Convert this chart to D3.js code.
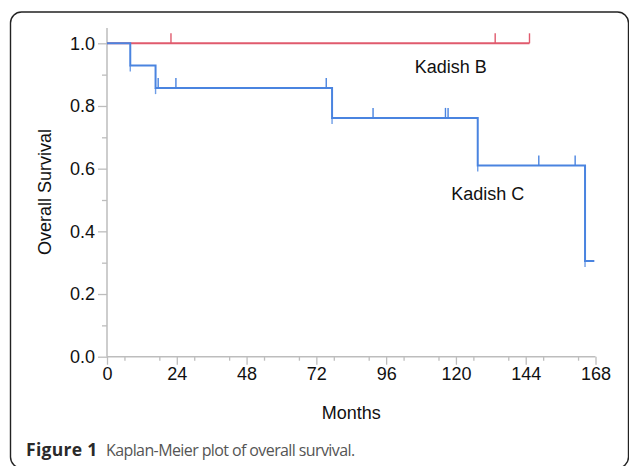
<!DOCTYPE html>
<html>
<head>
<meta charset="utf-8">
<script src="https://cdn.jsdelivr.net/npm/d3@7"></script>
<style>
  body { margin: 0; background: #fff; }
  svg { display: block; }
</style>
</head>
<body>
<div id="chart"></div>
<script>
// Kadish B: no events, censored only
var kadishBCensored = [22, 133.5, 145.3];
var kadishBEnd = 145.3;

// Kadish C: event times and survival after each event
var kadishCEventTimes = [8, 16.7, 77.4, 127.5, 164.4];
var kadishCSurvival = [0.929, 0.857, 0.762, 0.610, 0.305];
var kadishCCensored = [17.6, 23.7, 75.4, 91.5, 116.4, 117.3, 148.5, 161];
var kadishCEnd = 167.6;

var xTicks = [0, 24, 48, 72, 96, 120, 144, 168];
var yTicks = [0, 0.2, 0.4, 0.6, 0.8, 1.0];

var width = 629;
var height = 466;
var red = '#e05a6d';
var blue = '#4a84e0';
var axisGray = '#bdbdbd';
var font = 'Liberation Sans, Arial, sans-serif';

var svg = d3.select('#chart')
    .append('svg')
    .attr('width', width)
    .attr('height', height);

// rounded frame
svg.append('rect')
    .attr('x', 10.5)
    .attr('y', 12)
    .attr('width', 618)
    .attr('height', 456)
    .attr('rx', 11)
    .attr('fill', 'none')
    .attr('stroke', '#222')
    .attr('stroke-width', 1.4);

var x = d3.scaleLinear().domain([0, 168]).range([107, 595.5]);
var y = d3.scaleLinear().domain([0, 1]).range([356.7, 43.3]);

// axes, major and minor ticks
var yAxis = d3.axisLeft(y).tickValues(yTicks).tickFormat(d3.format('.1f')).tickSize(9).tickPadding(3);
var yMinor = d3.axisLeft(y).tickValues(d3.range(0.1, 1.0, 0.2)).tickFormat('').tickSize(5);
var xAxis = d3.axisBottom(x).tickValues(xTicks).tickFormat(d3.format('d')).tickSize(8).tickPadding(3);
var xMinor = d3.axisBottom(x).tickValues(d3.range(6, 168, 12)).tickFormat('').tickSize(4);

function styleAxis(g) {
    g.select('.domain').remove();
    g.selectAll('line').attr('stroke', axisGray).attr('stroke-width', 1.3);
    g.selectAll('text')
        .attr('fill', '#111')
        .style('font-family', font)
        .style('font-size', '18px');
}

svg.append('g').attr('transform', 'translate(107,0)').call(yAxis).call(styleAxis);
svg.append('g').attr('transform', 'translate(107,0)').call(yMinor).call(styleAxis);
svg.append('g').attr('transform', 'translate(0,356.7)').call(xAxis).call(styleAxis);
svg.append('g').attr('transform', 'translate(0,356.7)').call(xMinor).call(styleAxis);

// axis lines (y runs a little above 1.0)
svg.append('line')
    .attr('x1', x(0)).attr('x2', x(0))
    .attr('y1', 28).attr('y2', y(0))
    .attr('stroke', axisGray).attr('stroke-width', 1.5);
svg.append('line')
    .attr('x1', x(0)).attr('x2', x(168))
    .attr('y1', y(0)).attr('y2', y(0))
    .attr('stroke', axisGray).attr('stroke-width', 1.5);

// axis titles
svg.append('text')
    .attr('x', x(84))
    .attr('y', 419)
    .attr('text-anchor', 'middle')
    .style('font-family', font)
    .style('font-size', '18px')
    .attr('fill', '#111')
    .text('Months');

svg.append('text')
    .attr('transform', 'translate(51,192) rotate(-90)')
    .attr('text-anchor', 'middle')
    .style('font-family', font)
    .style('font-size', '18px')
    .attr('fill', '#111')
    .text('Overall Survival');

// step curve points
function stepPoints(times, surv, end) {
    var pts = [[0, 1]];
    var s = 1;
    times.forEach(function (t, i) {
        pts.push([t, s]);
        s = surv[i];
        pts.push([t, s]);
    });
    pts.push([end, s]);
    return pts;
}

function survAt(t, times, surv) {
    var s = 1;
    times.forEach(function (et, i) { if (et <= t) s = surv[i]; });
    return s;
}

var line = d3.line().x(function (d) { return x(d[0]); }).y(function (d) { return y(d[1]); });

// Kadish B
svg.append('path')
    .attr('d', line([[0, 1], [kadishBEnd, 1]]))
    .attr('fill', 'none')
    .attr('stroke', red)
    .attr('stroke-width', 2);
svg.selectAll('.censorB')
    .data(kadishBCensored)
    .enter().append('line')
    .attr('x1', function (d) { return x(d); })
    .attr('x2', function (d) { return x(d); })
    .attr('y1', y(1))
    .attr('y2', y(1) - 10)
    .attr('stroke', red)
    .attr('stroke-width', 1.4);

// Kadish C: small overshoot below each drop
svg.selectAll('.dropC')
    .data(kadishCEventTimes)
    .enter().append('line')
    .attr('x1', function (d) { return x(d); })
    .attr('x2', function (d) { return x(d); })
    .attr('y1', function (d, i) { return y(kadishCSurvival[i]); })
    .attr('y2', function (d, i) { return y(kadishCSurvival[i]) + 6; })
    .attr('stroke', blue)
    .attr('stroke-opacity', 0.8)
    .attr('stroke-width', 1.4);

svg.append('path')
    .attr('d', line(stepPoints(kadishCEventTimes, kadishCSurvival, kadishCEnd)))
    .attr('fill', 'none')
    .attr('stroke', blue)
    .attr('stroke-width', 2);

svg.selectAll('.censorC')
    .data(kadishCCensored)
    .enter().append('line')
    .attr('x1', function (d) { return x(d); })
    .attr('x2', function (d) { return x(d); })
    .attr('y1', function (d) { return y(survAt(d, kadishCEventTimes, kadishCSurvival)); })
    .attr('y2', function (d) { return y(survAt(d, kadishCEventTimes, kadishCSurvival)) - 10; })
    .attr('stroke', blue)
    .attr('stroke-width', 1.4);

// curve labels
svg.append('text')
    .attr('x', x(105.8))
    .attr('y', y(0.905))
    .style('font-family', font)
    .style('font-size', '18px')
    .attr('fill', '#111')
    .text('Kadish B');
svg.append('text')
    .attr('x', x(118.4))
    .attr('y', y(0.5))
    .style('font-family', font)
    .style('font-size', '18px')
    .attr('fill', '#111')
    .text('Kadish C');

// caption
var caption = svg.append('text')
    .attr('x', 26)
    .attr('y', 455.5)
    .style('font-family', 'Open Sans, sans-serif');
caption.append('tspan')
    .attr('font-weight', 'bold')
    .attr('fill', '#2a2a2a')
    .style('font-size', '17.5px')
    .style('letter-spacing', '0.3px')
    .text('Figure 1');
caption.append('tspan')
    .attr('x', 106)
    .attr('fill', '#555')
    .style('font-size', '16px')
    .style('letter-spacing', '-0.6px')
    .text('Kaplan-Meier plot of overall survival.');
</script>
</body>
</html>
